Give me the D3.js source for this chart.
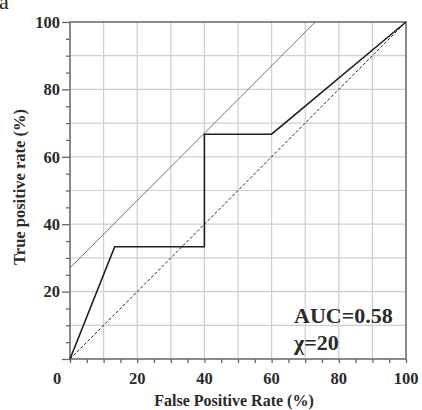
<!DOCTYPE html>
<html>
<head>
<meta charset="utf-8">
<script src="https://cdn.jsdelivr.net/npm/d3@7"></script>
<style>
  body { margin: 0; background: #fff; }
  svg text { font-family: "Liberation Serif", "Times New Roman", serif; font-weight: bold; }
</style>
</head>
<body>
<div id="chart"></div>
<script>
// Data
const fpr = [0, 13.3, 40, 40, 60, 100];
const tpr = [0, 33.3, 33.3, 66.7, 66.7, 100];
const chanceX = [0, 100];
const chanceY = [0, 100];
const refX = [0, 73];
const refY = [27, 100];
const tickValues = [0, 20, 40, 60, 80, 100];
const notes = ['AUC=0.58', 'χ=20'];

const dimensions = {
    width: 422,
    height: 410,
    margin: { top: 22, bottom: 51, left: 70, right: 16 }
};
dimensions.ctrWidth = dimensions.width - dimensions.margin.left - dimensions.margin.right;
dimensions.ctrHeight = dimensions.height - dimensions.margin.top - dimensions.margin.bottom;

// Scales
const xScale = d3.scaleLinear().domain([0, 100]).range([0, dimensions.ctrWidth]);
const yScale = d3.scaleLinear().domain([0, 100]).range([dimensions.ctrHeight, 0]);

const svg = d3.select('#chart')
    .append('svg')
    .attr('width', dimensions.width)
    .attr('height', dimensions.height);

// panel letter, cut by the top edge
svg.append('text')
    .attr('x', -1)
    .attr('y', 9)
    .attr('font-size', 22)
    .style('font-weight', 'normal')
    .attr('fill', '#222')
    .text('a');

const ctr = svg.append('g')
    .attr('transform', `translate(${dimensions.margin.left},${dimensions.margin.top})`);

// Grid
const gridVals = d3.range(10, 100, 10);
ctr.append('g').selectAll('line')
    .data(gridVals)
    .join('line')
    .attr('x1', d => xScale(d)).attr('x2', d => xScale(d))
    .attr('y1', 0).attr('y2', dimensions.ctrHeight)
    .attr('stroke', '#cfcfcf').attr('stroke-width', 1.2);
ctr.append('g').selectAll('line')
    .data(gridVals)
    .join('line')
    .attr('y1', d => yScale(d)).attr('y2', d => yScale(d))
    .attr('x1', 0).attr('x2', dimensions.ctrWidth)
    .attr('stroke', '#cfcfcf').attr('stroke-width', 1.2);

// Axes
const minor = d3.range(0, 101, 5);
const xAxis = d3.axisBottom(xScale).tickValues(minor).tickSize(4)
    .tickFormat(() => '');
const yAxis = d3.axisLeft(yScale).tickValues(minor).tickSize(4)
    .tickFormat(() => '');

const xAxisGroup = ctr.append('g')
    .attr('transform', `translate(0,${dimensions.ctrHeight})`)
    .call(xAxis);
const yAxisGroup = ctr.append('g').call(yAxis);

[xAxisGroup, yAxisGroup].forEach(g => {
    g.select('.domain').remove();
    g.selectAll('line').attr('stroke', '#666').attr('stroke-width', 1.3);
});
yAxisGroup.selectAll('.tick').filter(d => tickValues.includes(d))
    .select('line').attr('x2', -8);

// tick labels
ctr.append('g').selectAll('text')
    .data(tickValues)
    .join('text')
    .attr('x', d => xScale(d) + (d === 0 ? -13 : 0))
    .attr('y', dimensions.ctrHeight + 25)
    .attr('text-anchor', 'middle')
    .attr('font-size', 16.5)
    .attr('fill', '#2a2a2a')
    .text(d => d);
ctr.append('g').selectAll('text')
    .data(tickValues.filter(d => d > 0))
    .join('text')
    .attr('x', -10)
    .attr('y', d => yScale(d))
    .attr('dy', '0.35em')
    .attr('text-anchor', 'end')
    .attr('font-size', 16.5)
    .attr('fill', '#2a2a2a')
    .text(d => d);

// frame
ctr.append('rect')
    .attr('width', dimensions.ctrWidth)
    .attr('height', dimensions.ctrHeight)
    .attr('fill', 'none')
    .attr('stroke', '#6e6e6e')
    .attr('stroke-width', 1.6);

const line = d3.line()
    .x(d => xScale(d[0]))
    .y(d => yScale(d[1]));

// reference line
ctr.append('path')
    .datum(d3.zip(refX, refY))
    .attr('d', line)
    .attr('fill', 'none')
    .attr('stroke', '#777')
    .attr('stroke-width', 1);

// chance
ctr.append('path')
    .datum(d3.zip(chanceX, chanceY))
    .attr('d', line)
    .attr('fill', 'none')
    .attr('stroke', '#222')
    .attr('stroke-width', 1)
    .attr('stroke-dasharray', '3,2');

// ROC
ctr.append('path')
    .datum(d3.zip(fpr, tpr))
    .attr('d', line)
    .attr('fill', 'none')
    .attr('stroke', '#1e1e1e')
    .attr('stroke-width', 1.6);

// annotations
ctr.selectAll('.note')
    .data(notes)
    .join('text')
    .attr('class', 'note')
    .attr('x', 224)
    .attr('y', (d, i) => 301 + i * 27)
    .attr('font-size', 22)
    .attr('fill', '#2a2a2a')
    .text(d => d);

// axis titles
svg.append('text')
    .attr('x', 234)
    .attr('y', 406)
    .attr('text-anchor', 'middle')
    .attr('font-size', 16)
    .attr('fill', '#2a2a2a')
    .text('False Positive Rate (%)');

svg.append('text')
    .attr('transform', 'translate(25,187) rotate(-90)')
    .attr('text-anchor', 'middle')
    .attr('font-size', 16.5)
    .attr('fill', '#2a2a2a')
    .text('True positive rate (%)');
</script>
</body>
</html>
